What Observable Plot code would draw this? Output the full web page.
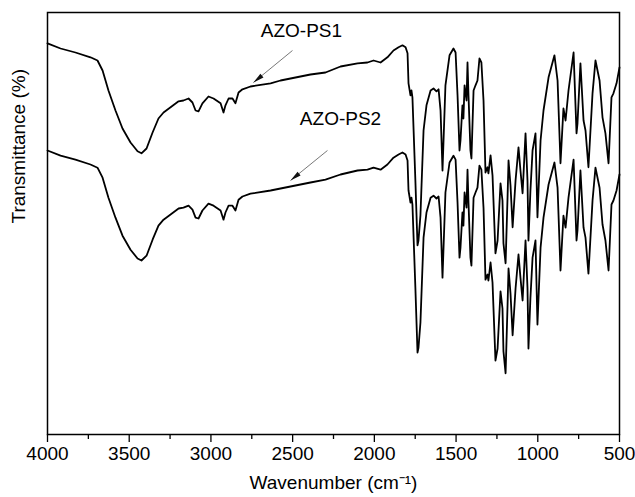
<!DOCTYPE html>
<html><head><meta charset="utf-8">
<script src="https://cdn.jsdelivr.net/npm/d3@7"></script>
<script src="https://cdn.jsdelivr.net/npm/@observablehq/plot@0.6"></script>
<style>body{margin:0;background:#fff}</style>
</head><body><div id="chart"></div>
<script>
const wavenumber = [4000,3920,3829,3737,3694,3663,3627,3584,3541,3492,3449,3425,3394,3357,3321,3290,3247,3198,3168,3137,3113,3094,3076,3052,3015,2984,2941,2923,2911,2892,2868,2850,2831,2807,2758,2635,2574,2391,2299,2207,2103,2042,2005,1962,1920,1883,1852,1828,1809,1797,1791,1779,1773,1767,1749,1736,1730,1718,1699,1681,1656,1638,1620,1607,1595,1583,1565,1540,1516,1503,1491,1479,1473,1461,1455,1448,1436,1430,1424,1412,1406,1393,1381,1369,1357,1345,1332,1320,1308,1302,1289,1277,1259,1246,1228,1216,1210,1197,1185,1179,1167,1154,1136,1118,1106,1093,1075,1063,1057,1045,1032,1014,1002,983,965,934,898,879,861,843,830,812,781,763,757,739,720,708,690,665,647,622,604,586,567,549,537,518,500];
const azoPS1 = [97.8,96.5,95.5,94.3,93.5,91,86,81,76.5,73,70.8,70.3,71.5,75.5,79,80.5,81.8,83.3,83.5,84,83,81,80.8,82.8,84.5,84,82.8,80.5,82.3,84,84,82.8,85.5,86.3,87,87.8,88.5,90,90.5,92,92.8,93,93.5,93,94.3,96,96.8,97.3,96.8,95.3,87.8,84.8,86,84.3,63.5,47.3,48.5,54.8,76,82.3,86,86.5,85.8,86.3,81,66,87.3,94.8,96.5,95.5,84.8,71,73.5,82.3,79,87.3,83.5,93,84.8,71,69,86,87.3,88.5,94,93,83.5,65.5,66.8,65.3,69.8,64.8,45.3,48.5,62.8,58.5,47.8,42.8,59.3,68.5,62.3,51.8,63.5,71.8,66,60.3,75.3,63.5,48.5,61,71,75.3,54.3,73.5,81,89.3,94.8,88.5,67.8,81.5,78.5,86,95.5,75.3,77.8,92.8,78.5,76,66.8,85.3,93.5,88.5,79.3,75.3,67.8,84.3,85.3,87.8,91.8];
const azoPS2 = [71.0,69.7,68.7,67.5,66.7,64.2,59.2,54.2,49.7,46.2,44.0,43.5,44.7,48.7,52.2,53.7,55.0,56.5,56.7,57.2,56.2,54.2,54.0,56.0,57.7,57.2,56.0,53.7,55.5,57.2,57.2,56.0,58.7,59.5,60.2,61.0,61.5,63.0,63.7,65.0,66.0,66.2,66.7,66.2,67.5,69.2,70.0,70.5,70.0,68.5,61.0,58.0,59.2,57.5,36.7,20.5,21.7,28.0,49.2,55.5,59.2,59.7,59.0,59.5,54.2,39.2,60.5,68.0,69.7,68.7,58.0,44.2,46.7,55.5,52.2,60.5,56.7,66.2,58.0,44.2,42.2,59.2,60.5,61.7,67.2,66.2,56.7,38.7,40.0,38.5,43.0,38.0,18.5,21.5,35.8,31.5,20.8,15.3,32.3,41.5,35.3,24.8,36.5,45.0,39.2,33.5,48.5,36.7,21.5,34.2,44.2,48.5,27.5,46.7,54.2,62.5,68.0,61.7,41.0,54.7,51.7,59.2,68.7,48.5,51.0,66.0,51.7,49.2,40.2,58.5,66.7,61.7,52.5,48.5,41.0,57.5,58.5,61.0,65.0];
const majorTicks = [4000,3500,3000,2500,2000,1500,1000,500];
const minorTicks = [3750,3250,2750,2250,1750,1250,750];
const seriesNames = ["AZO-PS1","AZO-PS2"];
const labelW = [2446,2207];
const labelT = [100.8,79];
const arrowFromW = [2501,2287];
const arrowFromT = [96,71];
const arrowToW = [2740,2513];
const arrowToT = [88,63.5];

const rows = [];
wavenumber.forEach((w,i)=>{ rows.push({w, t: azoPS1[i], s: seriesNames[0]}); });
wavenumber.forEach((w,i)=>{ rows.push({w, t: azoPS2[i], s: seriesNames[1]}); });
const notes = seriesNames.map((name,i)=>({name, lw: labelW[i], lt: labelT[i], x1: arrowFromW[i], y1: arrowFromT[i], x2: arrowToW[i], y2: arrowToT[i]}));

const FONT = "Liberation Sans, Arial, Helvetica, sans-serif";
function build(angles){
  return Plot.plot({
    width: 635, height: 497,
    marginLeft: 47, marginRight: 16, marginTop: 12, marginBottom: 63,
    style: {fontFamily: FONT, fontSize: "19px", color: "#000", background: "#fff"},
    x: {domain: [4000, 500]},
    y: {domain: [0, 105.5], axis: null},
    marks: [
      Plot.axisX(minorTicks, {tickSize: 5, tickFormat: () => "", label: null, strokeWidth: 1.3}),
      Plot.axisX(majorTicks, {tickSize: 8, tickPadding: 4, tickFormat: d => String(d), label: null, fontSize: 19, strokeWidth: 1.3}),
      Plot.line(rows, {x: "w", y: "t", z: "s", stroke: "#000", strokeWidth: 1.8, strokeLinejoin: "round"}),
      Plot.link(notes, {x1: "x1", y1: "y1", x2: "x2", y2: "y2", stroke: "#555", strokeWidth: 0.8}),
      Plot.vector(notes, {x: "x2", y: "y2", rotate: (d,i) => angles[i], length: 11, r: 2.4, shape: "spike", anchor: "end", fill: "#111", stroke: "none"}),
      Plot.text(notes, {x: "lw", y: "lt", text: "name", fontSize: 19, fill: "#000"}),
      Plot.frame({stroke: "#000", strokeWidth: 1.5}),
      Plot.text(["Wavenumber (cm⁻¹)"], {frameAnchor: "bottom", dy: 54, fontSize: 19, fill: "#000"}),
      Plot.text(["Transmittance (%)"], {frameAnchor: "left", dx: -29, rotate: -90, fontSize: 19, fill: "#000"})
    ]
  });
}
const first = build([0,0]);
const sx = first.scale("x"), sy = first.scale("y");
const angles = notes.map(d => {
  const dx = sx.apply(d.x2) - sx.apply(d.x1);
  const dy = sy.apply(d.y2) - sy.apply(d.y1);
  return Math.atan2(dx, -dy) * 180 / Math.PI;
});
document.getElementById("chart").append(build(angles));
</script>
</body></html>
